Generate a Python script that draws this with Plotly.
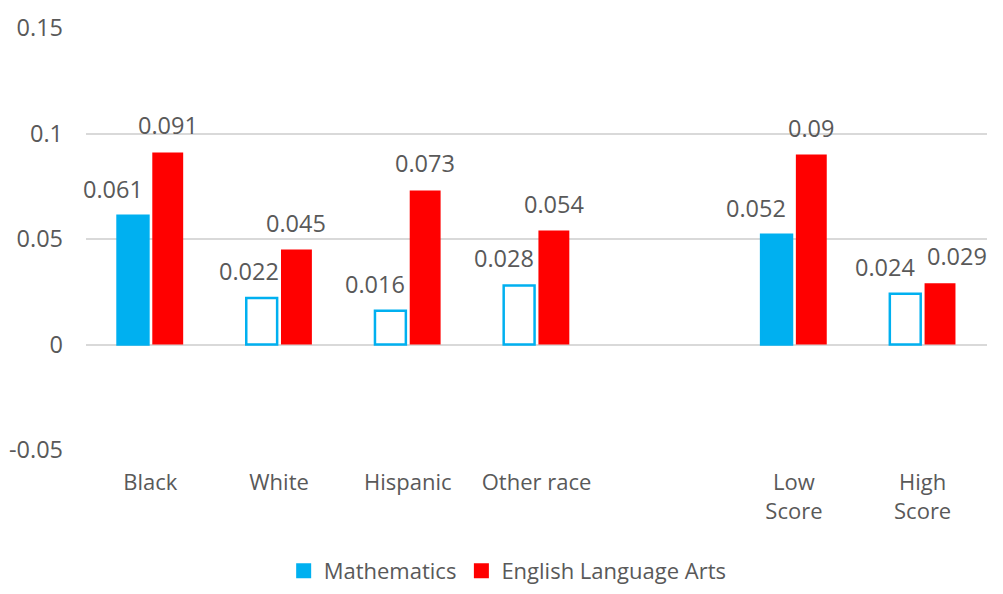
import plotly.graph_objects as go

categories = ["Black", "White", "Hispanic", "Other race", "", "Low<br>Score", "High<br>Score"]
positions = [0, 1, 2, 3, 4, 5, 6]
math_vals = [0.061, 0.022, 0.016, 0.028, None, 0.052, 0.024]
ela_vals = [0.091, 0.045, 0.073, 0.054, None, 0.09, 0.029]
math_filled = [True, False, False, False, None, True, False]
y_ticks = [-0.05, 0, 0.05, 0.1, 0.15]
y_ticktext = ["-0.05", "0", "0.05", "0.1", "0.15"]

# label nudges (styling only, px)
math_label_dx = [-20, -13, -15, -15, 0, -21, -20]
ela_label_dx = [0, 0, 0, 0, 0, 0, 17]

BLUE = "#00B0F0"
RED = "#FF0000"
TXT = "#595959"
FONT = "Open Sans"
FS_TXT = 22
FS_NUM = 23.5

bar_w = 0.24
m_off = -0.255
e_off = 0.015

idx = [i for i, v in enumerate(math_vals) if v is not None]
xs = [positions[i] for i in idx]
mv = [math_vals[i] for i in idx]
ev = [ela_vals[i] for i in idx]
mfill = [BLUE if math_filled[i] else "white" for i in idx]

fig = go.Figure()
fig.add_trace(go.Bar(
    x=xs, y=mv, name="Mathematics", width=bar_w, offset=m_off, showlegend=False,
    marker=dict(color=mfill, line=dict(color=BLUE, width=2.5)),
))
fig.add_trace(go.Bar(
    x=xs, y=ev, name="English Language Arts", width=bar_w, offset=e_off, showlegend=False,
    marker=dict(color=RED, line=dict(color=RED, width=0)),
))
# legend entries with square swatches
fig.add_trace(go.Scatter(x=[None], y=[None], mode="markers", name="Mathematics",
                         marker=dict(symbol="square", size=15, color=BLUE)))
fig.add_trace(go.Scatter(x=[None], y=[None], mode="markers", name="English Language Arts",
                         marker=dict(symbol="square", size=15, color=RED)))

for i in idx:
    x = positions[i]
    a, b = math_vals[i], ela_vals[i]
    fig.add_annotation(x=x + m_off + bar_w / 2, y=a, text=str(a), showarrow=False,
                       yanchor="bottom", yshift=9, xshift=math_label_dx[i],
                       font=dict(family=FONT, size=FS_NUM, color=TXT))
    fig.add_annotation(x=x + e_off + bar_w / 2, y=b, text=str(b), showarrow=False,
                       yanchor="bottom", yshift=9, xshift=ela_label_dx[i],
                       font=dict(family=FONT, size=FS_NUM, color=TXT))

fig.update_layout(
    width=995, height=586,
    margin=dict(l=78, r=16, t=20, b=144, autoexpand=False),
    paper_bgcolor="white", plot_bgcolor="white",
    font=dict(family=FONT, size=FS_TXT, color=TXT),
    barmode="overlay",
    showlegend=True,
    legend=dict(orientation="h", x=0.468, xanchor="center", y=-0.2867, yanchor="middle",
                font=dict(family=FONT, size=FS_TXT, color=TXT),
                traceorder="normal", itemwidth=30, tracegroupgap=0),
    xaxis=dict(range=[-0.5, 6.5], tickmode="array", tickvals=positions, ticktext=categories,
               showgrid=False, zeroline=False, showline=False, ticks="",
               ticklabelstandoff=17, automargin=False),
    yaxis=dict(range=[-0.05, 0.15], tickmode="array", tickvals=y_ticks, ticktext=y_ticktext,
               showgrid=True, gridcolor="#D9D9D9", gridwidth=1.5,
               zeroline=True, zerolinecolor="#D9D9D9", zerolinewidth=1.5,
               showline=False, ticks="", ticklabelstandoff=22, automargin=False,
               tickfont=dict(size=FS_NUM)),
)

fig.write_html("out.html")
